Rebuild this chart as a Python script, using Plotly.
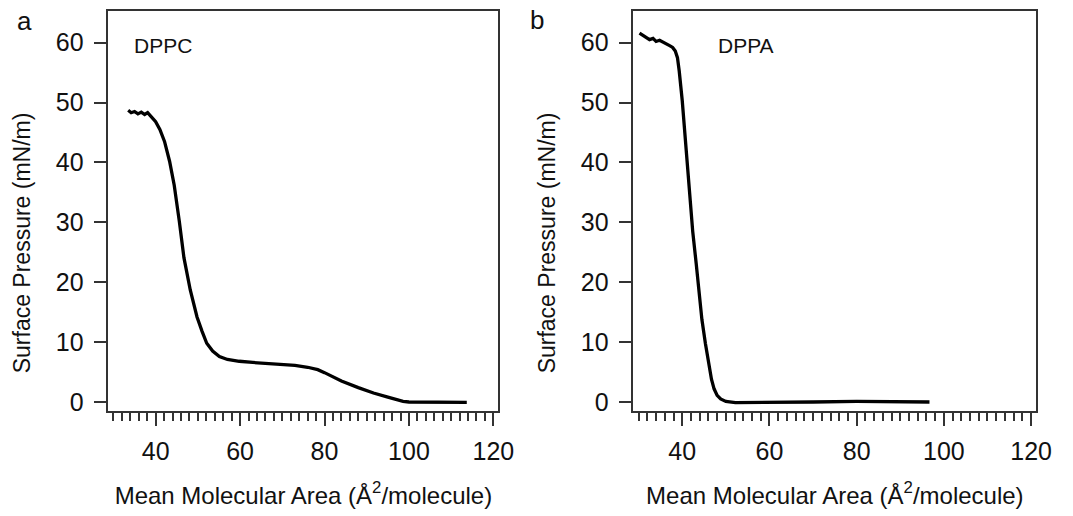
import plotly.graph_objects as go

# DPPC isotherm (panel a)
dppc_area = [33.5, 34.2, 35.0, 35.8, 36.6, 37.4, 38.1, 39.0, 40.0, 41.0, 42.1, 43.3, 44.4, 45.6,
             46.7, 48.2, 49.8, 51.0, 52.1, 53.5, 55.1, 57.0, 59.8, 63.0, 68.4, 73.0, 76.0, 78.4,
             80.0, 82.0, 84.0, 88.0, 91.6, 95.0, 98.6, 100.0, 105.0, 110.0, 113.7]
dppc_pressure = [48.7, 48.3, 48.5, 48.1, 48.4, 48.0, 48.3, 47.6, 46.8, 45.5, 43.5, 40.2, 36.2, 30.2,
                 24.1, 18.7, 14.2, 11.8, 9.8, 8.5, 7.6, 7.1, 6.8, 6.6, 6.4, 6.1, 5.8, 5.4,
                 4.9, 4.2, 3.5, 2.4, 1.5, 0.8, 0.1, 0.0, 0.0, 0.0, -0.05]

# DPPA isotherm (panel b)
dppa_area = [30.2, 30.8, 31.5, 32.5, 33.3, 34.0, 34.8, 35.7, 36.5, 37.1, 37.8, 38.4, 38.9, 39.3,
             40.0, 40.9, 41.6, 42.4, 43.2, 44.5, 45.3, 46.1, 46.7, 47.3, 48.0, 48.8, 50.0, 52.2,
             60.0, 70.0, 80.0, 90.0, 96.7]
dppa_pressure = [61.6, 61.3, 60.9, 60.5, 60.7, 60.2, 60.4, 60.1, 59.8, 59.5, 59.2, 58.6, 57.5, 55.3,
                 50.3, 42.0, 34.2, 28.5, 23.1, 13.8, 9.8, 6.0, 3.8, 2.2, 1.1, 0.5, 0.1, -0.1,
                 0.0, 0.0, 0.1, 0.0, 0.0]

x_major_ticks = [40, 60, 80, 100, 120]
y_major_ticks = [0, 10, 20, 30, 40, 50, 60]
panel_labels = ["a", "b"]
sample_names = ["DPPC", "DPPA"]
x_title = "Mean Molecular Area (Å<sup>2</sup>/molecule)"
y_title = "Surface Pressure (mN/m)"

FONT = "Liberation Sans, Arial, sans-serif"
AXC = "#333333"
TXT = "#111111"

fig = go.Figure()
fig.add_trace(go.Scatter(x=dppc_area, y=dppc_pressure, mode="lines",
                         line=dict(color="black", width=3.3), xaxis="x", yaxis="y",
                         showlegend=False))
fig.add_trace(go.Scatter(x=dppa_area, y=dppa_pressure, mode="lines",
                         line=dict(color="black", width=3.3), xaxis="x2", yaxis="y2",
                         showlegend=False))

W, H = 1073, 516
xdom_a = [110 / W, 506 / W]
xdom_b = [643 / W, 1052 / W]
ydom = [1 - 415 / H, 1 - 11 / H]

def xaxis(domain, anchor):
    return dict(domain=domain, anchor=anchor, range=[28.8, 121.2],
                tickmode="array", tickvals=x_major_ticks,
                ticks="outside", ticklen=13, tickwidth=1.5, tickcolor=AXC,
                minor=dict(dtick=2, tick0=30, ticks="outside", ticklen=8, tickwidth=1.5, tickcolor=AXC),
                showline=True, linecolor=AXC, linewidth=1.5, mirror=True,
                showgrid=False, zeroline=False, ticklabelstandoff=4,
                tickfont=dict(family=FONT, size=25, color=TXT),
                title=dict(text=x_title, font=dict(family=FONT, size=24, color=TXT), standoff=23))

def yaxis(domain, anchor):
    return dict(domain=domain, anchor=anchor, range=[-1.5, 65.3],
                tickmode="array", tickvals=y_major_ticks,
                ticks="outside", ticklen=13, tickwidth=1.5, tickcolor=AXC,
                showline=True, linecolor=AXC, linewidth=1.5, mirror=True,
                showgrid=False, zeroline=False, ticklabelstandoff=5,
                tickfont=dict(family=FONT, size=25, color=TXT))

def txt(text, x, y, size, angle=0):
    return dict(text=text, x=x / W, y=1 - y / H, xref="paper", yref="paper",
                xanchor="center", yanchor="middle", textangle=angle,
                showarrow=False, font=dict(family=FONT, size=size, color=TXT))

fig.update_layout(
    width=W, height=H,
    margin=dict(l=0, r=0, t=0, b=0),
    paper_bgcolor="white", plot_bgcolor="white",
    xaxis=xaxis(xdom_a, "y"), yaxis=yaxis(ydom, "x"),
    xaxis2=xaxis(xdom_b, "y2"), yaxis2=yaxis(ydom, "x2"),
    annotations=[
        txt(panel_labels[0], 25, 21, 26),
        txt(panel_labels[1], 545, 20, 26),
        txt(sample_names[0], 165, 46, 21),
        txt(sample_names[1], 757, 46, 21),
        txt(y_title, 22, 245, 23, -90),
        txt(y_title, 555, 245, 23, -90),
    ],
)

fig.write_html("out.html")
